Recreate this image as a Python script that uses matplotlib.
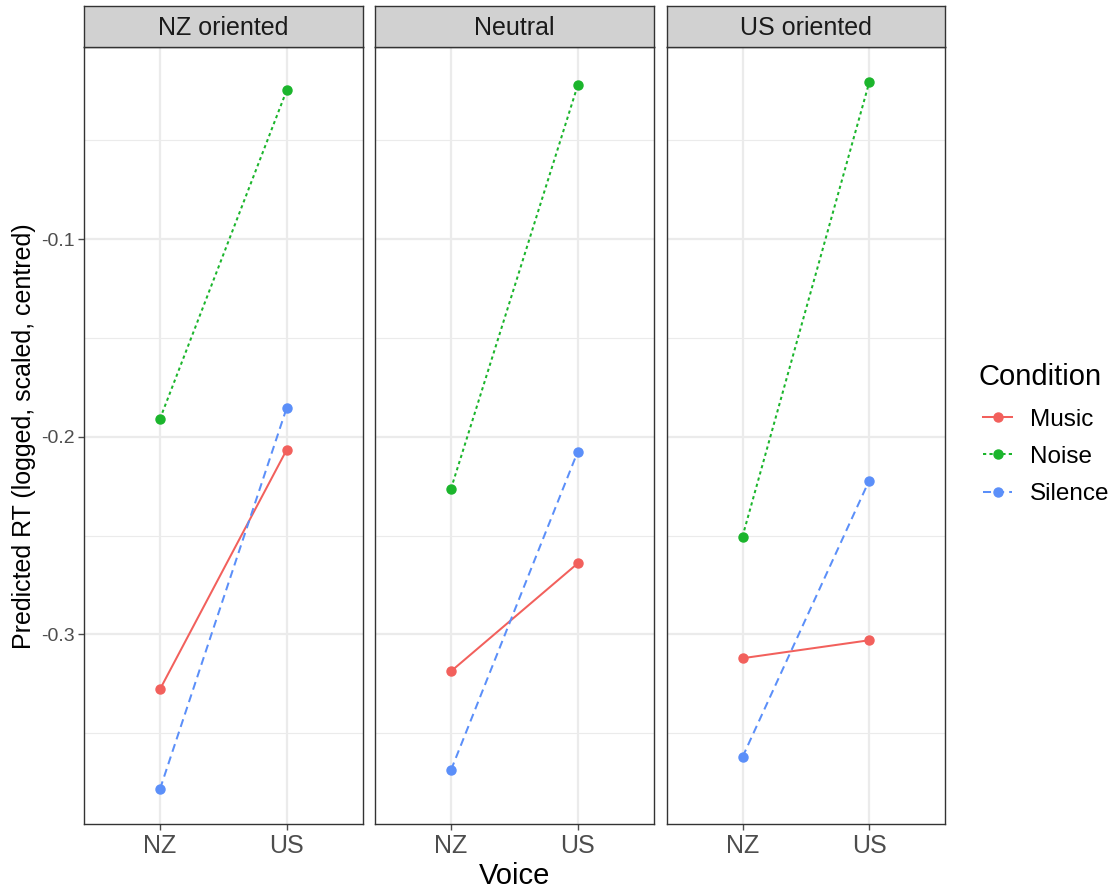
import matplotlib
matplotlib.use("Agg")
import matplotlib.pyplot as plt
from matplotlib.lines import Line2D

plt.rcParams['font.family'] = ['Liberation Sans', 'DejaVu Sans']

panels = ["NZ oriented", "Neutral", "US oriented"]
voices = ["NZ", "US"]
conditions = ["Music", "Noise", "Silence"]

music = [[-0.3278, -0.2066], [-0.3187, -0.2641], [-0.3121, -0.3030]]
noise = [[-0.1909, -0.0247], [-0.2263, -0.0222], [-0.2505, -0.0207]]
silence = [[-0.3783, -0.1854], [-0.3687, -0.2076], [-0.3621, -0.2222]]

series = {"Music": music, "Noise": noise, "Silence": silence}
colors = {"Music": "#F2605C", "Noise": "#1BB52C", "Silence": "#5B8FF9"}
styles = {"Music": "-", "Noise": (0, (1.6, 1.6)), "Silence": (0, (4, 2.5))}

y_ticks = [-0.3, -0.2, -0.1]
y_minor = [-0.35, -0.25, -0.15, -0.05]

fig = plt.figure(figsize=(11.16, 8.88), dpi=100)

W, H = 1116, 888
lefts = [84, 375, 666.5]
pw = 278.7
top_px, bot_px = 47.5, 824
strip_top = 6.5

for i, name in enumerate(panels):
    ax = fig.add_axes([lefts[i] / W, (H - bot_px) / H, pw / W, (bot_px - top_px) / H])
    ax.set_xlim(0.4, 2.6)
    ax.set_ylim(-0.396, -0.003)
    ax.set_yticks(y_ticks)
    ax.set_yticks(y_minor, minor=True)
    ax.set_xticks([1, 2])
    ax.set_xticklabels(voices)
    ax.grid(True, which='major', color='#EBEBEB', lw=1.6, zorder=0)
    ax.grid(True, which='minor', axis='y', color='#EBEBEB', lw=0.8, zorder=0)
    ax.set_axisbelow(True)
    for s in ax.spines.values():
        s.set_color('#333333')
        s.set_linewidth(1.0)
    ax.tick_params(axis='x', labelsize=18, colors='#4D4D4D', length=4, width=1.0, pad=3)
    ax.tick_params(axis='y', labelsize=14, colors='#4D4D4D', length=4, width=1.0, pad=3)
    ax.tick_params(which='minor', length=0)
    if i == 0:
        ax.set_yticklabels([f"{t:g}" for t in y_ticks])
    else:
        ax.tick_params(axis='y', length=0, labelleft=False)
    for c in conditions:
        vals = series[c][i]
        ax.plot([1, 2], vals, color=colors[c], linestyle=styles[c], lw=1.45,
                marker='o', markersize=6.5, zorder=3)
    # facet strip
    sax = fig.add_axes([lefts[i] / W, (H - top_px) / H, pw / W, (top_px - strip_top) / H])
    sax.set_facecolor('#D1D1D1')
    sax.set_xticks([])
    sax.set_yticks([])
    for s in sax.spines.values():
        s.set_color('#333333')
        s.set_linewidth(1.0)
    sax.text(0.5, 0.47, name, ha='center', va='center', fontsize=18, color='#1A1A1A',
             transform=sax.transAxes)
    if i == 0:
        ax.set_ylabel("Predicted RT (logged, scaled, centred)", fontsize=18, color='black', labelpad=3)
    if i == 1:
        ax.set_xlabel("Voice", fontsize=21, color='black', labelpad=3)

# legend: title drawn separately for ggplot-like spacing
fig.text(979 / W, 1 - 377 / H, "Condition", ha='left', va='center', fontsize=21, color='black')
handles = [Line2D([0], [0], color=colors[c], linestyle=styles[c], lw=1.45, marker='o',
                  markersize=6.5) for c in conditions]
fig.legend(handles, conditions, loc='center left',
           bbox_to_anchor=(983 / W, 1 - 457 / H), frameon=False, fontsize=17.5,
           borderpad=0, borderaxespad=0, handlelength=1.2, labelspacing=0.62,
           handletextpad=0.75)

fig.savefig("out.png", dpi=100)
